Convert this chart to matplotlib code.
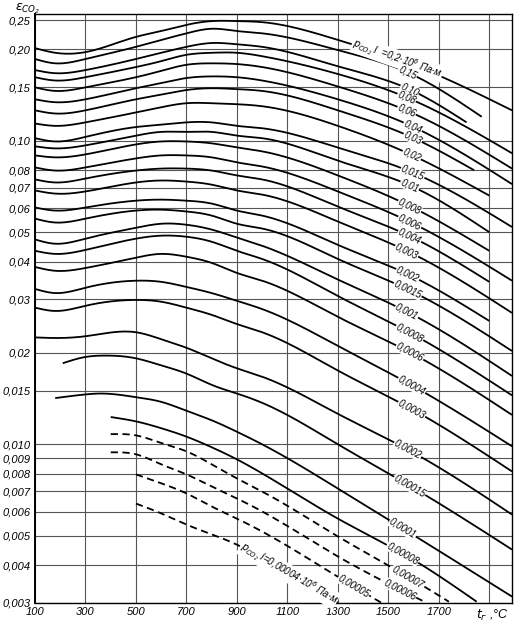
import numpy as np
import matplotlib
matplotlib.use("Agg")
import matplotlib.pyplot as plt
import matplotlib.transforms as mtransforms

plt.rcParams['font.family'] = ['Liberation Sans', 'DejaVu Sans']
plt.rcParams['font.style'] = 'italic'
plt.rcParams['mathtext.fontset'] = 'dejavusans'

# gas temperature points shared by the curves that start at 100 C
t_main = [100, 180, 300, 500, 600, 700, 800, 900, 1000, 1300, 1590]
# last temperature of each of those curves
t_end_main = [1990, 1870, 1810, 1990, 1990, 1990, 1840, 1900, 1990, 1900, 1900,
              1990, 1900, 1990, 1900, 1990, 1990, 1990, 1990, 1990, 1990, 1990]

# emissivity along each curve (t_main + end point)
e_0_2 = [0.202, 0.195, 0.196, 0.220, 0.230, 0.241, 0.248, 0.248, 0.246, 0.215, 0.179, 0.126]
e_0_15 = [0.186, 0.180, 0.186, 0.204, 0.215, 0.226, 0.234, 0.230, 0.226, 0.199, 0.166, 0.120]
e_0_10 = [0.171, 0.167, 0.171, 0.186, 0.195, 0.204, 0.210, 0.208, 0.204, 0.176, 0.147, 0.115]
e_0_08 = [0.162, 0.158, 0.162, 0.175, 0.183, 0.192, 0.195, 0.195, 0.190, 0.166, 0.137, 0.091]
e_0_06 = [0.150, 0.146, 0.150, 0.162, 0.170, 0.178, 0.180, 0.179, 0.175, 0.151, 0.124, 0.081]
e_0_04 = [0.137, 0.134, 0.137, 0.149, 0.155, 0.161, 0.163, 0.162, 0.158, 0.137, 0.112, 0.072]
e_0_03 = [0.126, 0.123, 0.126, 0.137, 0.142, 0.147, 0.149, 0.148, 0.146, 0.126, 0.103, 0.080]
e_0_02 = [0.114, 0.112, 0.115, 0.124, 0.129, 0.133, 0.133, 0.132, 0.130, 0.112, 0.090, 0.066]
e_0_015 = [0.102, 0.0995, 0.103, 0.111, 0.113, 0.115, 0.115, 0.112, 0.110, 0.095, 0.079, 0.052]
e_0_01 = [0.0959, 0.0944, 0.0966, 0.104, 0.107, 0.107, 0.107, 0.104, 0.102, 0.086, 0.071, 0.050]
e_0_008 = [0.0895, 0.0882, 0.0902, 0.0973, 0.0995, 0.0995, 0.0981, 0.0951, 0.0923, 0.0769, 0.0607, 0.0434]
e_0_006 = [0.0817, 0.0798, 0.0817, 0.0875, 0.0895, 0.0895, 0.0882, 0.0849, 0.0823, 0.0681, 0.0538, 0.0346]
e_0_004 = [0.0746, 0.0729, 0.0751, 0.0798, 0.0810, 0.0810, 0.0798, 0.0769, 0.0746, 0.0607, 0.0483, 0.0343]
e_0_003 = [0.0686, 0.0670, 0.0681, 0.0729, 0.0740, 0.0734, 0.0717, 0.0686, 0.0665, 0.0542, 0.0427, 0.0271]
e_0_002 = [0.0603, 0.0589, 0.0603, 0.0635, 0.0640, 0.0635, 0.0621, 0.0589, 0.0567, 0.0454, 0.0359, 0.0255]
e_0_0015 = [0.0554, 0.0538, 0.0554, 0.0589, 0.0593, 0.0585, 0.0567, 0.0533, 0.0514, 0.0408, 0.0320, 0.0203]
e_0_001 = [0.0473, 0.0458, 0.0476, 0.0517, 0.0533, 0.0529, 0.0510, 0.0480, 0.0451, 0.0349, 0.0269, 0.0168]
e_0_0008 = [0.0434, 0.0424, 0.0437, 0.0476, 0.0487, 0.0483, 0.0465, 0.0434, 0.0408, 0.0308, 0.0232, 0.0145]
e_0_0006 = [0.0384, 0.0373, 0.0381, 0.0412, 0.0424, 0.0415, 0.0396, 0.0367, 0.0346, 0.0263, 0.0200, 0.0125]
e_0_0004 = [0.0325, 0.0315, 0.0328, 0.0346, 0.0343, 0.0330, 0.0315, 0.0297, 0.0279, 0.0211, 0.0157, 0.00985]
e_0_0003 = [0.0282, 0.0275, 0.0286, 0.0299, 0.0295, 0.0282, 0.0267, 0.0249, 0.0234, 0.0175, 0.0131, 0.00814]
e_0_0002 = [0.0225, 0.0224, 0.0227, 0.0234, 0.0222, 0.0208, 0.0192, 0.0178, 0.0167, 0.0126, 0.00948, 0.00587]

# curves that start later
t_0_00015 = [210, 300, 370, 500, 600, 700, 800, 900, 1000, 1300, 1590, 1990]
e_0_00015 = [0.0185, 0.0194, 0.0196, 0.0192, 0.0182, 0.0171, 0.0157, 0.0147, 0.0137, 0.0100, 0.00726, 0.00450]
t_0_0001 = [180, 300, 360, 500, 600, 700, 800, 900, 1000, 1300, 1590, 1990]
e_0_0001 = [0.0142, 0.0146, 0.0147, 0.0143, 0.0138, 0.0129, 0.0120, 0.0110, 0.0100, 0.00715, 0.00508, 0.00315]
t_0_00008 = [400, 500, 600, 700, 800, 900, 1000, 1300, 1590, 1850]
e_0_00008 = [0.0123, 0.0119, 0.0113, 0.0106, 0.00978, 0.00892, 0.00802, 0.00569, 0.00421, 0.00303]
t_0_00007 = [400, 500, 600, 700, 800, 900, 1000, 1300, 1590, 1740]
e_0_00007 = [0.0108, 0.0107, 0.0101, 0.00948, 0.00859, 0.00772, 0.00699, 0.00497, 0.00361, 0.00303]
t_0_00006 = [400, 500, 600, 700, 800, 900, 1000, 1300, 1650]
e_0_00006 = [0.00941, 0.00927, 0.00859, 0.00796, 0.00726, 0.00663, 0.00601, 0.00427, 0.00301]
t_0_00005 = [500, 600, 700, 800, 900, 1000, 1300, 1480]
e_0_00005 = [0.00796, 0.00744, 0.00689, 0.00624, 0.00569, 0.00516, 0.00366, 0.00298]
t_0_00004 = [500, 600, 700, 800, 900, 1000, 1300]
e_0_00004 = [0.00638, 0.00592, 0.00544, 0.00505, 0.00467, 0.00421, 0.00301]

labels = ["0,2", "0,15", "0,10", "0,08", "0,06", "0,04", "0,03", "0,02", "0,015",
          "0,01", "0,008", "0,006", "0,004", "0,003", "0,002", "0,0015", "0,001",
          "0,0008", "0,0006", "0,0004", "0,0003", "0,0002", "0,00015", "0,0001",
          "0,00008", "0,00007", "0,00006", "0,00005", "0,00004"]

y_ticks = [0.25, 0.20, 0.15, 0.10, 0.08, 0.07, 0.06, 0.05, 0.04, 0.03, 0.02, 0.015,
           0.010, 0.009, 0.008, 0.007, 0.006, 0.005, 0.004, 0.003]
y_ticklabels = ["0,25", "0,20", "0,15", "0,10", "0,08", "0,07", "0,06", "0,05", "0,04",
                "0,03", "0,02", "0,015", "0,010", "0,009", "0,008", "0,007", "0,006",
                "0,005", "0,004", "0,003"]
x_ticks = [100, 300, 500, 700, 900, 1100, 1300, 1500, 1700, 1900]
x_ticklabels = ["100", "300", "500", "700", "900", "1100", "1300", "1500", "1700", ""]

# where each label sits along its curve (deg C)
t_label = [1535, 1577, 1585, 1573, 1573, 1597, 1597, 1593, 1597, 1585, 1585, 1585,
           1585, 1573, 1577, 1577, 1573, 1585, 1585, 1593, 1593, 1577, 1585, 1557,
           1557, 1577, 1546, 1363, 1105]


def spline(x, y, xn):
    # natural cubic spline through the read points
    x = np.asarray(x, float)
    y = np.asarray(y, float)
    n = len(x)
    h = np.diff(x)
    A = np.zeros((n, n))
    r = np.zeros(n)
    A[0, 0] = A[-1, -1] = 1
    for i in range(1, n - 1):
        A[i, i - 1] = h[i - 1]
        A[i, i] = 2 * (h[i - 1] + h[i])
        A[i, i + 1] = h[i]
        r[i] = 6 * ((y[i + 1] - y[i]) / h[i] - (y[i] - y[i - 1]) / h[i - 1])
    M = np.linalg.solve(A, r)
    xn = np.asarray(xn, float)
    i = np.clip(np.searchsorted(x, xn, side='right') - 1, 0, n - 2)
    a = x[i + 1] - xn
    b = xn - x[i]
    hi = h[i]
    return (M[i] * a**3 / (6 * hi) + M[i + 1] * b**3 / (6 * hi)
            + (y[i] / hi - M[i] * hi / 6) * a + (y[i + 1] / hi - M[i + 1] * hi / 6) * b)


main_eps = [e_0_2, e_0_15, e_0_10, e_0_08, e_0_06, e_0_04, e_0_03, e_0_02, e_0_015,
            e_0_01, e_0_008, e_0_006, e_0_004, e_0_003, e_0_002, e_0_0015, e_0_001,
            e_0_0008, e_0_0006, e_0_0004, e_0_0003, e_0_0002]
curves = []
for e, te in zip(main_eps, t_end_main):
    curves.append((t_main + [te], e, False))
curves += [(t_0_00015, e_0_00015, False), (t_0_0001, e_0_0001, False),
           (t_0_00008, e_0_00008, False), (t_0_00007, e_0_00007, True),
           (t_0_00006, e_0_00006, True), (t_0_00005, e_0_00005, True),
           (t_0_00004, e_0_00004, True)]

fig = plt.figure(figsize=(5.21, 6.29), dpi=100)
ax = fig.add_axes([35 / 521, 1 - 603 / 629, 477 / 521, 589 / 629])
ax.set_yscale('log')
ax.set_xlim(100, 1990)
ax.set_ylim(0.003, 0.2617)

ax.set_yticks(y_ticks)
ax.set_yticklabels(y_ticklabels)
ax.yaxis.set_minor_locator(matplotlib.ticker.NullLocator())
ax.set_xticks(x_ticks)
ax.set_xticklabels(x_ticklabels)
ax.tick_params(length=0, labelsize=8, pad=3)
ax.grid(True, color='#555555', lw=0.8)
for sp in ax.spines.values():
    sp.set_linewidth(1.0)
ax.spines['left'].set_linewidth(1.4)

for (t, e, dashed), lab, tl in zip(curves, labels, t_label):
    tt = np.linspace(t[0], t[-1], 400)
    le = spline(t, np.log10(e), tt)
    ls = (0, (4, 2.5)) if dashed else '-'
    ax.plot(tt, 10**le, color='black', lw=1.3, ls=ls, solid_capstyle='butt', zorder=3)

    tx = np.array([tl - 40, tl, tl + 40])
    p = spline(t, np.log10(e), tx)
    pts = ax.transData.transform(np.column_stack([tx, 10**p]))
    ang = np.degrees(np.arctan2(pts[2, 1] - pts[0, 1], pts[2, 0] - pts[0, 0]))
    if lab == "0,2":
        txt = r"$p_{\mathrm{CO_2}}\,l$  =0,2$\cdot$10$^6$ Па$\cdot$м"
    elif lab == "0,00004":
        txt = r"$p_{\mathrm{CO_2}}\,l$=0,00004$\cdot$10$^6$ Па$\cdot$м"
    else:
        txt = lab
    ax.text(tl, 10**p[1], txt, rotation=ang, rotation_mode='anchor',
            ha='center', va='center', fontsize=7, zorder=4,
            bbox=dict(facecolor='white', edgecolor='none', pad=0.4))

trans = mtransforms.blended_transform_factory(ax.transData, ax.transAxes)
ax.text(1912, -0.008, r"$t_{г}$ ,°C", transform=trans, ha='center', va='top', fontsize=9)
fig.text(15 / 521, 1 - 9 / 629, r"$\varepsilon_{\mathrm{CO_2}}$", ha='left', va='center', fontsize=9)

fig.savefig("out.png", dpi=100)
